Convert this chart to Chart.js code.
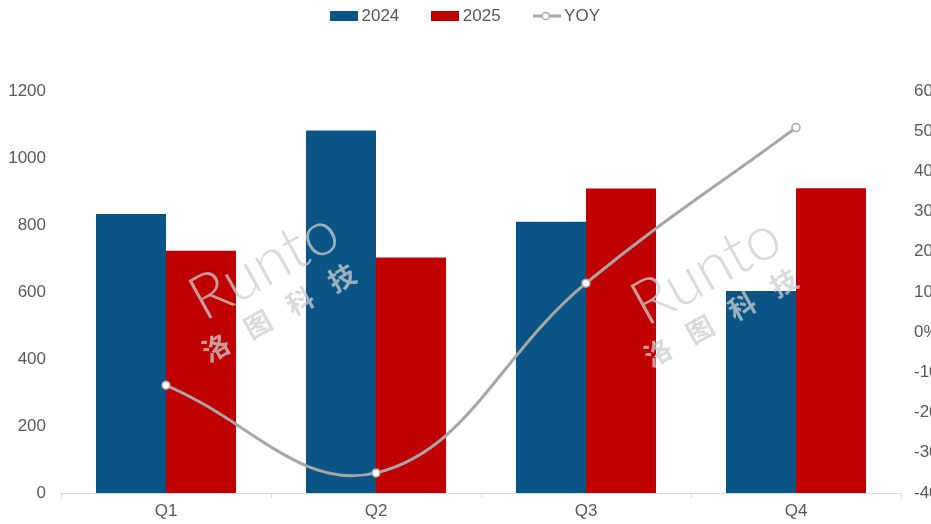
<!DOCTYPE html>
<html>
<head>
<meta charset="utf-8">
<script src="https://cdn.jsdelivr.net/npm/chart.js@4.4.0/dist/chart.umd.min.js"></script>
<style>
  html, body { margin: 0; padding: 0; background: #ffffff; overflow: hidden; }
  #wrap { width: 931px; height: 524px; }
</style>
</head>
<body>
<div id="wrap"><canvas id="c" width="931" height="524"></canvas></div>
<script>
const categories = ['Q1', 'Q2', 'Q3', 'Q4'];
const series2024 = [833, 1082, 810, 603];
const series2025 = [723, 703, 909, 910];
const yoyPercent = [-13.2, -35.0, 12.2, 50.9];
const leftTicks = [0, 200, 400, 600, 800, 1000, 1200];
const rightTicks = [-40, -30, -20, -10, 0, 10, 20, 30, 40, 50, 60];

const BLUE = '#0B5586';
const RED = '#C00000';
const GRAY_LINE = '#A6A6A6';
const TEXT = '#595959';
const FONT = "'Liberation Sans', Arial, sans-serif";

function makeRectIcon(color) {
  const cv = document.createElement('canvas');
  cv.width = 28; cv.height = 10;
  const g = cv.getContext('2d');
  g.fillStyle = color;
  g.fillRect(0, 0, 28, 10);
  return cv;
}
function makeLineIcon() {
  const cv = document.createElement('canvas');
  cv.width = 28; cv.height = 10;
  const g = cv.getContext('2d');
  g.strokeStyle = GRAY_LINE;
  g.lineWidth = 3;
  g.beginPath(); g.moveTo(0, 5); g.lineTo(28, 5); g.stroke();
  g.fillStyle = '#ffffff';
  g.lineWidth = 1.5;
  g.beginPath(); g.arc(13, 5, 3.6, 0, Math.PI * 2); g.fill(); g.stroke();
  return cv;
}
const icons = [makeRectIcon(BLUE), makeRectIcon(RED), makeLineIcon()];

const layoutTweaks = {
  id: 'layoutTweaks',
  afterInit(chart) {
    const lg = chart.legend;
    if (lg) {
      const f = lg.fit.bind(lg);
      lg.fit = function () { f(); this.height = 91; };
    }
  },
  afterLayout(chart) {
    const lg = chart.legend;
    if (lg) {
      lg.top = 16 - 37 - 8.5;
      lg.left += 2; lg.right += 2;
    }
  }
};

const watermark = {
  id: 'watermark',
  afterDatasetsDraw(chart) {
    const ctx = chart.ctx;
    const origins = [[204, 322], [646, 327]];
    const chars = ['洛', '图', '科', '技'];
    origins.forEach(([ox, oy]) => {
      ctx.save();
      ctx.translate(ox, oy);
      ctx.rotate(-29 * Math.PI / 180);
      ctx.fillStyle = 'rgba(205,205,205,0.75)';
      ctx.font = "300 62px Lato, 'Liberation Sans', sans-serif";
      ctx.textAlign = 'left';
      ctx.textBaseline = 'alphabetic';
      ctx.fillText('Runto', 0, 0);
      ctx.font = "bold 27px 'Noto Sans CJK SC', sans-serif";
      ctx.textAlign = 'center';
      ctx.textBaseline = 'middle';
      chars.forEach((ch, i) => ctx.fillText(ch, -2 + i * 48, 28));
      ctx.restore();
    });
  }
};

new Chart(document.getElementById('c'), {
  data: {
    labels: categories,
    datasets: [
      {
        type: 'line',
        label: 'YOY',
        data: yoyPercent,
        yAxisID: 'y1',
        borderColor: GRAY_LINE,
        borderWidth: 3,
        tension: 0.4,
        pointRadius: 4,
        pointBackgroundColor: '#ffffff',
        pointBorderColor: GRAY_LINE,
        pointBorderWidth: 1.5,
        order: 0
      },
      {
        type: 'bar',
        label: '2024',
        data: series2024,
        backgroundColor: BLUE,
        yAxisID: 'y',
        categoryPercentage: 0.667,
        barPercentage: 1.0,
        order: 1
      },
      {
        type: 'bar',
        label: '2025',
        data: series2025,
        backgroundColor: RED,
        yAxisID: 'y',
        categoryPercentage: 0.667,
        barPercentage: 1.0,
        order: 1
      }
    ]
  },
  options: {
    responsive: false,
    animation: false,
    layout: { padding: 0 },
    plugins: {
      tooltip: { enabled: false },
      legend: {
        display: true,
        position: 'top',
        align: 'center',
        labels: {
          usePointStyle: true,
          pointStyleWidth: 18,
          padding: 37,
          color: TEXT,
          font: { family: FONT, size: 17 },
          generateLabels() {
            return ['2024', '2025', 'YOY'].map((t, i) => ({
              text: t,
              pointStyle: icons[i],
              fillStyle: 'transparent',
              strokeStyle: 'transparent',
              lineWidth: 0,
              fontColor: TEXT,
              hidden: false,
              datasetIndex: [1, 2, 0][i]
            }));
          }
        }
      }
    },
    scales: {
      x: {
        offset: true,
        grid: { display: true, drawOnChartArea: false, drawTicks: true, tickLength: 5, color: '#D9D9D9', offset: true },
        border: { display: true, color: '#D9D9D9', width: 1 },
        ticks: { color: TEXT, font: { family: FONT, size: 17 }, padding: 3, maxRotation: 0 },
        afterFit(scale) { scale.height = 31; }
      },
      y: {
        position: 'left',
        min: 0, max: 1200,
        afterBuildTicks(scale) { scale.ticks = leftTicks.map(v => ({ value: v })); },
        grid: { display: false, drawTicks: false },
        border: { display: false },
        ticks: { color: TEXT, font: { family: FONT, size: 17 }, padding: 15, callback: v => String(v) },
        afterFit(scale) { scale.width = 61; }
      },
      y1: {
        position: 'right',
        min: -40, max: 60,
        afterBuildTicks(scale) { scale.ticks = rightTicks.map(v => ({ value: v })); },
        grid: { display: false, drawTicks: false },
        border: { display: false },
        ticks: { color: TEXT, font: { family: FONT, size: 17 }, padding: 13, callback: v => v + '%' },
        afterFit(scale) { scale.width = 30; }
      }
    }
  },
  plugins: [layoutTweaks, watermark]
});
</script>
</body>
</html>
